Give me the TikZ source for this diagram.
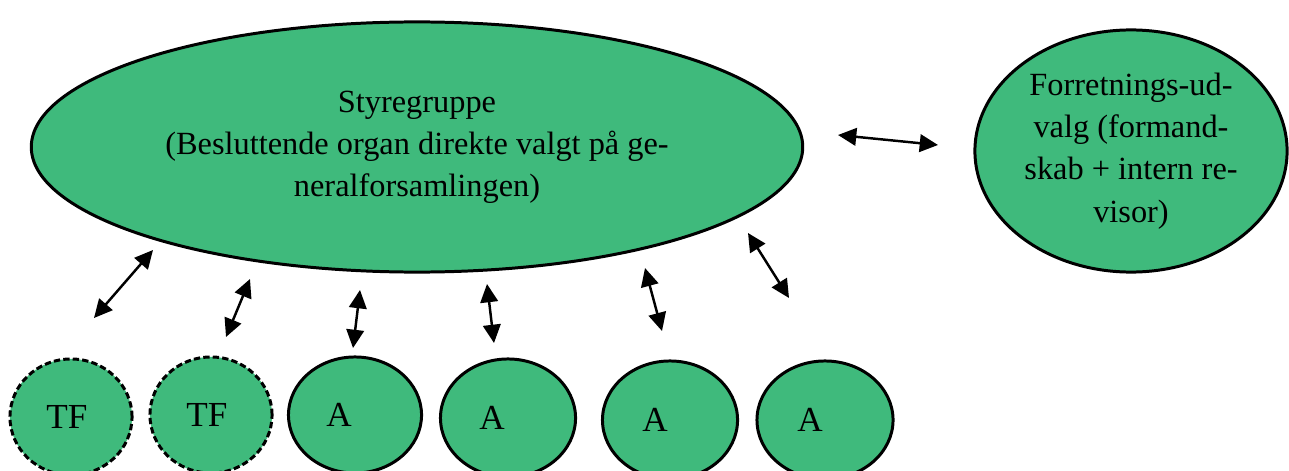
\documentclass[tikz,border=0pt]{standalone}
\usepackage{fontspec}
\setmainfont{Liberation Serif}
\usetikzlibrary{shapes.geometric,arrows.meta}

\definecolor{orggreen}{RGB}{63,186,124}

\tikzset{
    organ/.style={ellipse, draw, line width=0.85pt, fill=orggreen, inner sep=0pt,
                  align=center, font=\fontsize{9.2}{12}\selectfont},
    team/.style={organ, dash pattern=on 1.8pt off 0.9pt},
    link/.style={{Triangle[length=5.2pt,width=5pt]}-{Triangle[length=5.2pt,width=5pt]},
                 line width=0.7pt},
}

\begin{document}
\begin{tikzpicture}[x=0.01cm, y=-0.01cm]
        \useasboundingbox (0,0) rectangle (1289,470);
        \clip (0,0) rectangle (1289,470);

        % --- styregruppe og forretningsudvalg ---
        \node[organ, minimum width=7.71cm, minimum height=2.5cm] (sg) at (417,147)
            {Styregruppe\\(Besluttende organ direkte valgt på ge-\\neralforsamlingen)};
        \node[organ, minimum width=3.12cm, minimum height=2.42cm] (fu) at (1131,151)
            {Forretnings-ud-\\valg (formand-\\skab + intern re-\\visor)};

        % --- grupper nederst ---
        \node[team, minimum width=1.22cm, minimum height=1.16cm] (tf1) at (71,417)
            [label={[xshift=-0.04cm]center:TF}] {};
        \node[team, minimum width=1.22cm, minimum height=1.16cm] (tf2) at (211,415)
            [label={[xshift=-0.04cm]center:TF}] {};
        \node[organ, minimum width=1.33cm, minimum height=1.16cm] (a1) at (355,415)
            [label={[xshift=-0.16cm]center:A}] {};
        \node[organ, minimum width=1.35cm, minimum height=1.18cm] (a2) at (508,418)
            [label={[xshift=-0.16cm]center:A}] {};
        \node[organ, minimum width=1.35cm, minimum height=1.18cm] (a3) at (670,420)
            [label={[xshift=-0.15cm]center:A}] {};
        \node[organ, minimum width=1.36cm, minimum height=1.18cm] (a4) at (825,420)
            [label={[xshift=-0.15cm]center:A}] {};

        % --- pile ---
        \foreach \n/\p/\q in {1/{94,318}/{153,250}, 2/{226,337}/{250,279},
                              3/{353,348}/{360,290}, 4/{494,343}/{487,284},
                              5/{662,331}/{645,268}, 6/{789,298}/{748,233}} {
            \coordinate (lo\n) at (\p);
            \coordinate (hi\n) at (\q);
            \draw[link] (lo\n) -- (hi\n);
        }
        \coordinate (sgr) at (838,135);
        \coordinate (ful) at (938,145);
        \draw[link] (sgr) -- (ful);

    \end{tikzpicture}
\end{document}
